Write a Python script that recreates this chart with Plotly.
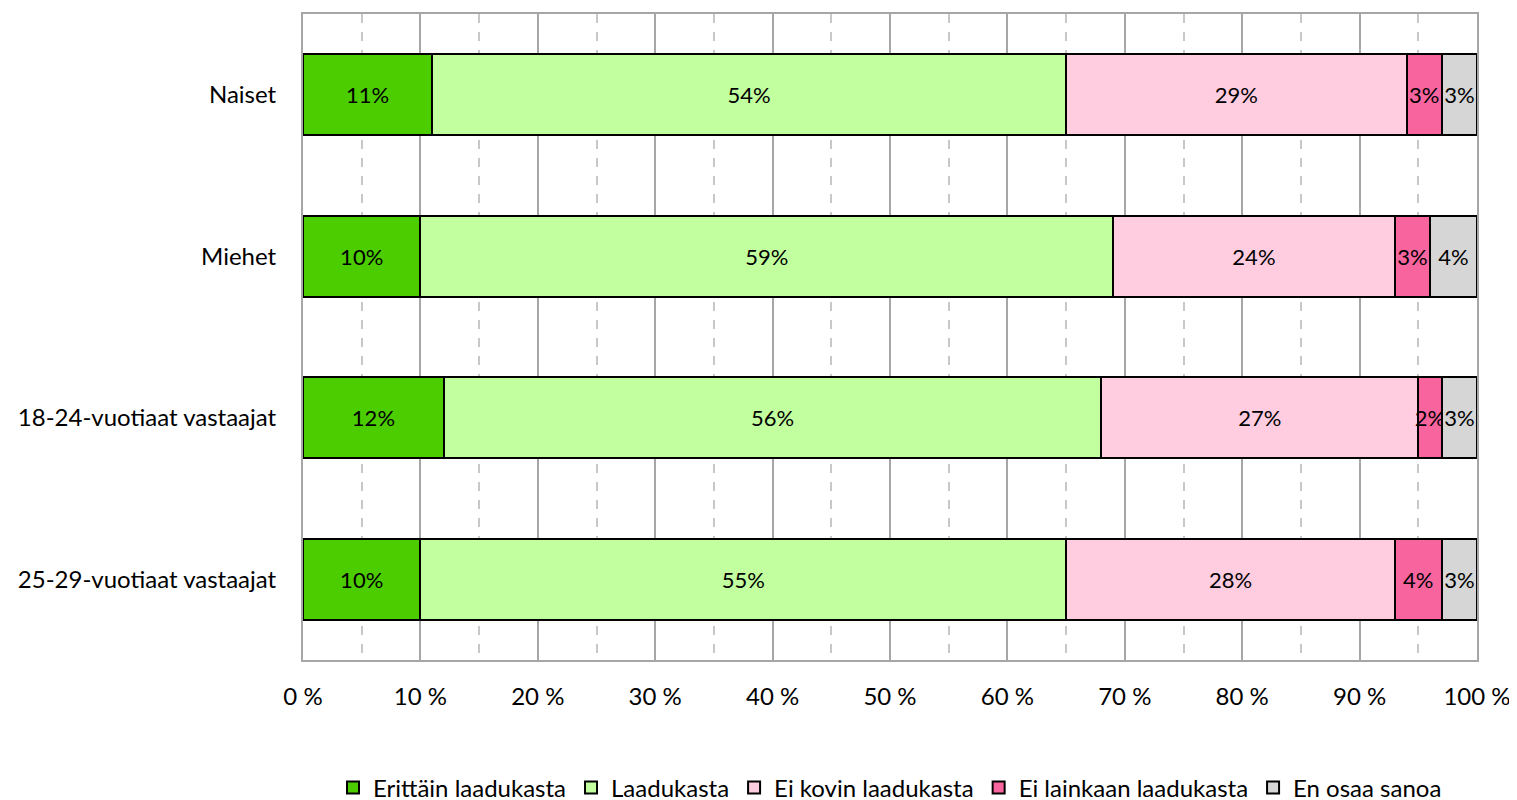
import plotly.graph_objects as go

groups = ["Naiset", "Miehet", "18-24-vuotiaat vastaajat", "25-29-vuotiaat vastaajat"]

series_names = [
    "Erittäin laadukasta",
    "Laadukasta",
    "Ei kovin laadukasta",
    "Ei lainkaan laadukasta",
    "En osaa sanoa",
]
erittain = [11, 10, 12, 10]
laadukasta = [54, 59, 56, 55]
ei_kovin = [29, 24, 27, 28]
ei_lainkaan = [3, 3, 2, 4]
en_osaa = [3, 4, 3, 3]

colors = ["#4CCD00", "#C1FF9F", "#FFCCE0", "#F7649E", "#D6D6D6"]

font_family = "Lato, 'Open Sans', sans-serif"

fig = go.Figure()
for name, values, color in zip(
    series_names, [erittain, laadukasta, ei_kovin, ei_lainkaan, en_osaa], colors
):
    fig.add_trace(
        go.Bar(
            y=groups,
            x=values,
            name=name,
            orientation="h",
            marker={"color": color, "line": {"color": "#000000", "width": 2}},
            text=[f"{v}%" for v in values],
            textposition="inside",
            insidetextanchor="middle",
            textangle=0,
            constraintext="none",
            textfont={"color": "#000000", "size": 22, "family": font_family},
            cliponaxis=False,
            width=0.5,
        )
    )

fig.update_layout(
    barmode="stack",
    width=1517,
    height=800,
    margin=dict(l=295, r=48, t=4, b=148),
    paper_bgcolor="#ffffff",
    plot_bgcolor="#ffffff",
    font={"family": font_family, "size": 24, "color": "#000000"},
    hovermode=False,
    legend=dict(
        orientation="h",
        traceorder="normal",
        x=0.5,
        xanchor="center",
        xref="paper",
        y=0.025,
        yanchor="middle",
        yref="container",
        font={"size": 24},
        itemwidth=30,
    ),
)
fig.update_xaxes(
    range=[0, 100],
    dtick=10,
    ticksuffix=" %",
    showgrid=True,
    gridcolor="#A6A6A6",
    gridwidth=2,
    showline=True,
    linecolor="#A6A6A6",
    linewidth=2,
    mirror=True,
    zeroline=False,
    ticks="",
    ticklabelstandoff=14,
    minor=dict(dtick=5, showgrid=True, gridcolor="#C8C8C8", griddash="dash", gridwidth=2),
)
fig.update_yaxes(
    autorange="reversed",
    showgrid=False,
    showline=True,
    linecolor="#A6A6A6",
    linewidth=2,
    mirror=True,
    ticks="",
    ticklabelstandoff=20,
)

fig.write_html("out.html")
